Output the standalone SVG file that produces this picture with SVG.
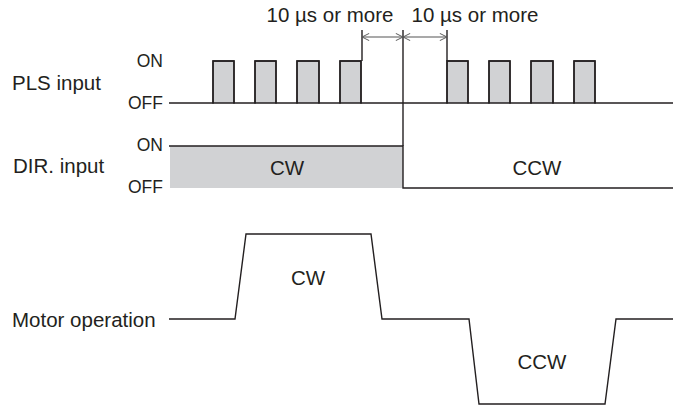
<svg xmlns="http://www.w3.org/2000/svg" width="674" height="405" viewBox="0 0 674 405">
<defs>
<style>
text{font-family:"Liberation Sans",Arial,sans-serif;fill:#231f20}
.lbl{font-size:20.5px}
.lvl{font-size:17.5px;text-anchor:end}
.mid{text-anchor:middle}
.ln{fill:none;stroke:#231f20;stroke-width:1.4}
.sig{fill:#d1d2d4;stroke:#231f20;stroke-width:1.4}
.dim{fill:none;stroke:#555;stroke-width:1.1}
</style>
<marker id="ah" viewBox="0 0 10 10" refX="10" refY="5" markerWidth="8" markerHeight="8" markerUnits="userSpaceOnUse" orient="auto-start-reverse">
<path d="M1,0.5 L10,5 L1,9.5" fill="none" stroke="#555" stroke-width="1.2"/>
</marker>
</defs>
<rect width="674" height="405" fill="#fff"/>
<g id="labels">
<text class="lbl" x="12" y="90">PLS input</text>
<text class="lbl" x="13" y="173">DIR. input</text>
<text class="lbl" x="12" y="327">Motor operation</text>
<text class="lvl" x="163" y="67">ON</text>
<text class="lvl" x="163" y="109">OFF</text>
<text class="lvl" x="163" y="151">ON</text>
<text class="lvl" x="163" y="193">OFF</text>
</g>
<g id="pls-input">
<path class="sig" d="M213,103 V61 H234 V103 Z M255,103 V61 H276 V103 Z M297,103 V61 H319 V103 Z M340,103 V61 H361 V103 Z M447,103 V61 H468 V103 Z M489,103 V61 H510 V103 Z M531,103 V61 H553 V103 Z M574,103 V61 H595 V103 Z" stroke="none"/>
<path class="ln" d="M169,103 H213 V61 H234 V103 H255 V61 H276 V103 H297 V61 H319 V103 H340 V61 H361 V103 H447 V61 H468 V103 H489 V61 H510 V103 H531 V61 H553 V103 H574 V61 H595 V103 H673"/>
</g>
<g id="dir-input">
<rect x="170" y="146" width="233" height="42" fill="#d1d2d4"/>
<path class="ln" d="M169,146 H403 V188 H673"/>
<text class="lbl mid" x="287" y="175">CW</text>
<text class="lbl mid" x="537" y="175">CCW</text>
</g>
<g id="motor-operation">
<path class="ln" d="M169,319 H235 L246,234 H371 L382,319 H469 L479,404 H605 L616,319 H673"/>
<text class="lbl mid" x="308" y="285">CW</text>
<text class="lbl mid" x="542" y="369">CCW</text>
</g>
<g id="connectors">
<line class="ln" x1="362" y1="30" x2="362" y2="61"/>
<line class="ln" x1="403" y1="30" x2="403" y2="146" stroke-width="1.2"/>
<line class="ln" x1="447" y1="30" x2="447" y2="61"/>
<line class="dim" x1="362" y1="37" x2="403" y2="37" marker-start="url(#ah)" marker-end="url(#ah)"/>
<line class="dim" x1="403" y1="37" x2="447" y2="37" marker-start="url(#ah)" marker-end="url(#ah)"/>
<text class="lbl mid" x="330" y="22">10 µs or more</text>
<text class="lbl mid" x="475" y="22">10 µs or more</text>
</g>
</svg>
